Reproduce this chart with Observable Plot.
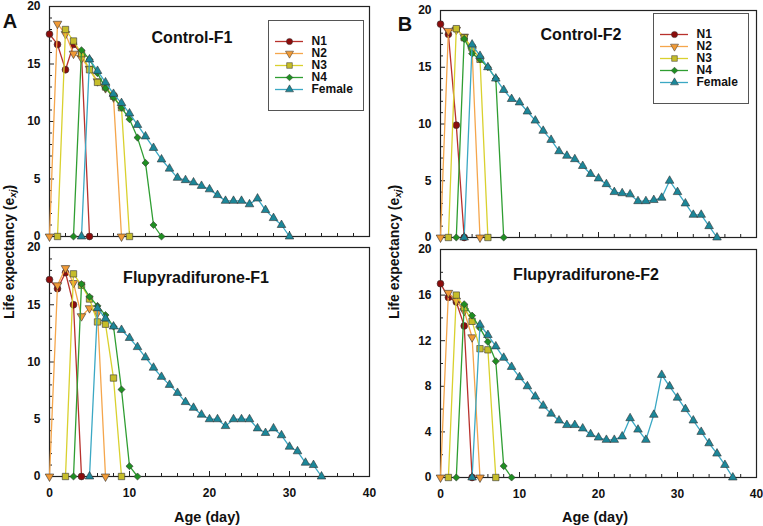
<!DOCTYPE html>
<html>
<head>
<meta charset="utf-8">
<script src="https://cdn.jsdelivr.net/npm/d3@7"></script>
<script src="https://cdn.jsdelivr.net/npm/@observablehq/plot@0.6"></script>
<style>
  html, body { margin: 0; padding: 0; background: #fff; }
  #chart { position: relative; width: 763px; height: 526px; overflow: hidden; background: #fff;
           font-family: "Liberation Sans", Arial, sans-serif; font-weight: bold; color: #111; }
  .abs { position: absolute; white-space: nowrap; transform: translate(-50%, -50%); line-height: 1; }
  #chart svg { overflow: visible; }
</style>
</head>
<body>
<div id="chart"></div>
<script>
// ---------------- data ----------------
const seriesNames = ["N1", "N2", "N3", "N4", "Female"];
const xTicks = [0, 10, 20, 30, 40];
const yTicks5 = [0, 5, 10, 15, 20];
const yTicks4 = [0, 4, 8, 12, 16, 20];

// Control-F1 : first day of each series and daily values
const cf1Start = [0, 0, 1, 3, 4];
const cf1_N1 = [17.6, 16.7, 14.5, 16.7, 15.9, 0];
const cf1_N2 = [0, 18.5, 17.6, 15.9, 15.5, 14.6, 13.5, 12.9, 12.1, 0];
const cf1_N3 = [0, 18.0, 17.0, 15.9, 14.5, 13.4, 13.0, 12.2, 11.2, 0];
const cf1_N4 = [0, 16.2, 15.4, 14.2, 12.9, 12.1, 11.2, 10.2, 8.6, 6.4, 1.0, 0];
const cf1_F  = [0, 15.4, 14.4, 13.4, 12.4, 11.6, 10.7, 9.7, 8.7, 7.7, 6.7, 5.9, 5.1, 4.9, 4.7, 4.4, 4.1, 3.6, 3.1, 3.1, 3.1, 2.8, 3.3, 2.3, 1.6, 1.0, 0];

// Flupyradifurone-F1
const ff1Start = [0, 0, 2, 3, 5];
const ff1_N1 = [17.2, 16.4, 17.8, 15.0, 0];
const ff1_N2 = [0, 16.7, 18.2, 16.9, 14.0, 14.7, 14.3, 0];
const ff1_N3 = [0, 17.7, 16.7, 15.5, 13.5, 13.3, 8.6, 0];
const ff1_N4 = [0, 16.8, 15.7, 14.9, 14.1, 13.1, 7.6, 0.9, 0];
const ff1_F  = [0, 14.7, 13.8, 13.1, 12.8, 12.1, 11.3, 10.4, 9.5, 8.7, 8.0, 7.3, 6.5, 6.0, 5.4, 5.0, 5.0, 4.4, 5.0, 5.0, 5.0, 4.2, 3.8, 4.2, 3.6, 2.6, 2.2, 1.2, 1.0, 0];

// Control-F2
const cf2Start = [0, 0, 1, 2, 3];
const cf2_N1 = [18.8, 17.9, 9.9, 0];
const cf2_N2 = [0, 18.2, 18.3, 17.7, 16.5, 0];
const cf2_N3 = [0, 18.4, 17.6, 16.7, 15.7, 0];
const cf2_N4 = [0, 17.5, 16.2, 15.7, 15.0, 14.0, 0];
const cf2_F  = [0, 17.0, 16.0, 15.0, 14.0, 13.0, 12.2, 11.9, 11.1, 10.3, 9.4, 8.6, 7.6, 7.2, 6.9, 6.3, 5.6, 5.2, 4.7, 4.0, 3.9, 3.8, 3.2, 3.2, 3.3, 3.5, 5.0, 4.0, 3.0, 2.0, 2.0, 1.0, 0];

// Flupyradifurone-F2
const ff2Start = [0, 0, 1, 2, 4];
const ff2_N1 = [17.0, 15.8, 15.4, 13.3, 0];
const ff2_N2 = [0, 16.2, 15.5, 14.6, 12.3, 0];
const ff2_N3 = [0, 16.0, 14.9, 13.7, 11.3, 11.2, 0];
const ff2_N4 = [0, 15.2, 14.2, 13.1, 11.9, 10.2, 1.0, 0];
const ff2_F  = [0, 13.4, 12.5, 11.5, 10.5, 9.7, 8.8, 8.0, 7.1, 6.3, 5.6, 5.0, 4.6, 4.6, 4.3, 3.8, 3.5, 3.3, 3.3, 3.6, 5.2, 4.2, 3.3, 5.5, 9.0, 8.0, 7.0, 6.0, 5.0, 4.0, 3.0, 2.1, 1.1, 0];

// ---------------- styles ----------------
const lineColors = ["#b8312c", "#f5a64c", "#d9d12e", "#2f9e32", "#3ba8c4"];
const fillColors = ["#8c0c0c", "#f09a36", "#c6bd2a", "#1f8f22", "#1c8799"];
const sqrt3 = Math.sqrt(3);
const triangleDown = {
  draw(context, size) {
    const y = -Math.sqrt(size / (sqrt3 * 3));
    context.moveTo(0, -y * 2);
    context.lineTo(-sqrt3 * y, y);
    context.lineTo(sqrt3 * y, y);
    context.closePath();
  }
};
const symbols = ["circle", triangleDown, "square", "diamond2", "triangle"];
const radii = [3.4, 3.2, 3.6, 3.2, 3.2];
const FONT = '"Liberation Sans", Arial, sans-serif';

function toRows(starts, arrays) {
  const rows = [];
  arrays.forEach((vals, i) => {
    vals.forEach((v, j) => rows.push({series: seriesNames[i], idx: i, day: starts[i] + j, e: v}));
  });
  return rows;
}

const chart = document.getElementById("chart");

function place(el, left, top) {
  el.style.position = "absolute";
  el.style.left = left + "px";
  el.style.top = top + "px";
  chart.appendChild(el);
}

function panel({rows, frameLeft, frameTop, fw, fh, yTicks, yMinorStep, showX}) {
  const ml = 45, mr = 6, mt = 5, mb = showX ? 28 : 6;
  const yMinor = d3.range(0, 20.001, yMinorStep).filter(v => !yTicks.includes(v));
  const xMinor = d3.range(0, 40.001, 2).filter(v => !xTicks.includes(v));
  const marks = [
    Plot.axisY({ticks: yTicks, tickSize: 0, tickPadding: 9, label: null, fontSize: 12, fontWeight: "bold"}),
    showX ? Plot.axisX({ticks: xTicks, tickSize: 0, tickPadding: 12, label: null, fontSize: 12, fontWeight: "bold"}) : null,
    Plot.tickY(yMinor, {y: d => d, insetRight: fw - 3, stroke: "#222"}),
    Plot.tickY(yTicks, {y: d => d, insetRight: fw - 5, stroke: "#222"}),
    Plot.tickX(xMinor, {x: d => d, insetTop: fh - 3, stroke: "#222"}),
    Plot.tickX(xTicks, {x: d => d, insetTop: fh - 5, stroke: "#222"}),
    Plot.frame({stroke: "#222", strokeWidth: 1.2})
  ];
  seriesNames.forEach((s, i) => {
    const data = rows.filter(r => r.idx === i);
    marks.push(Plot.line(data, {x: "day", y: "e", stroke: lineColors[i], strokeWidth: 1.3}));
    marks.push(Plot.dot(data, {x: "day", y: "e", symbol: () => symbols[i], r: radii[i], fill: fillColors[i], stroke: "#333", strokeWidth: 0.6}));
  });
  const svg = Plot.plot({
    width: ml + fw + mr, height: mt + fh + mb,
    marginLeft: ml, marginRight: mr, marginTop: mt, marginBottom: mb,
    x: {domain: [0, 40], axis: showX ? undefined : null},
    y: {domain: [0, 20]},
    symbol: {type: "identity"},
    style: {fontFamily: FONT, fontSize: "12px", fontWeight: "bold", color: "#111", background: "transparent", overflow: "visible"},
    marks
  });
  place(svg, frameLeft - ml, frameTop - mt);
}

function legend(left, top) {
  const idx = d => seriesNames.indexOf(d);
  const svg = Plot.plot({
    width: 95, height: 90, margin: 0,
    x: {domain: [0, 95], axis: null},
    y: {type: "point", domain: seriesNames, range: [13, 77], axis: null},
    symbol: {type: "identity"},
    style: {fontFamily: FONT, fontSize: "12px", fontWeight: "bold", color: "#111", background: "#fff", overflow: "visible"},
    marks: [
      Plot.ruleY(seriesNames, {y: d => d, x1: 7, x2: 35, stroke: d => lineColors[idx(d)], strokeWidth: 1.3}),
      Plot.dot(seriesNames, {x: 21, y: d => d, symbol: d => symbols[idx(d)], r: d => radii[idx(d)] * 0.9,
        fill: d => fillColors[idx(d)], stroke: "#333", strokeWidth: 0.5}),
      Plot.text(seriesNames, {x: 43, y: d => d, text: d => d, textAnchor: "start", fill: "#111"}),
      Plot.frame({stroke: "#555", strokeWidth: 1})
    ]
  });
  place(svg, left, top);
}

function label(html, x, y, css) {
  const d = document.createElement("div");
  d.className = "abs";
  d.innerHTML = html;
  d.style.left = x + "px";
  d.style.top = y + "px";
  Object.assign(d.style, css || {});
  chart.appendChild(d);
}

panel({rows: toRows(cf1Start, [cf1_N1, cf1_N2, cf1_N3, cf1_N4, cf1_F]), frameLeft: 49, frameTop: 6, fw: 320, fh: 230, yTicks: yTicks5, yMinorStep: 1, showX: false});
panel({rows: toRows(ff1Start, [ff1_N1, ff1_N2, ff1_N3, ff1_N4, ff1_F]), frameLeft: 49, frameTop: 247, fw: 320, fh: 229, yTicks: yTicks5, yMinorStep: 1, showX: true});
panel({rows: toRows(cf2Start, [cf2_N1, cf2_N2, cf2_N3, cf2_N4, cf2_F]), frameLeft: 440, frameTop: 10, fw: 316, fh: 227, yTicks: yTicks5, yMinorStep: 1, showX: false});
panel({rows: toRows(ff2Start, [ff2_N1, ff2_N2, ff2_N3, ff2_N4, ff2_F]), frameLeft: 440, frameTop: 249, fw: 316, fh: 228, yTicks: yTicks4, yMinorStep: 2, showX: true});

legend(268, 20);
legend(653, 13);

const titleCss = {fontSize: "16px"};
label("Control-F1", 192, 38, titleCss);
label("Flupyradifurone-F1", 196, 278, titleCss);
label("Control-F2", 581, 35, titleCss);
label("Flupyradifurone-F2", 586, 275, titleCss);

label("A", 10, 21, {fontSize: "20px"});
label("B", 405, 24, {fontSize: "20px"});

const yLab = 'Life expectancy (e<sub style="font-style:italic;font-size:70%;vertical-align:-0.25em;">xj</sub>)';
label(yLab, 10, 252, {fontSize: "14px", transform: "translate(-50%, -50%) rotate(-90deg)"});
label(yLab, 395, 252, {fontSize: "14px", transform: "translate(-50%, -50%) rotate(-90deg)"});

label("Age (day)", 207, 517, {fontSize: "14.5px"});
label("Age (day)", 595, 517, {fontSize: "14.5px"});
</script>
</body>
</html>
